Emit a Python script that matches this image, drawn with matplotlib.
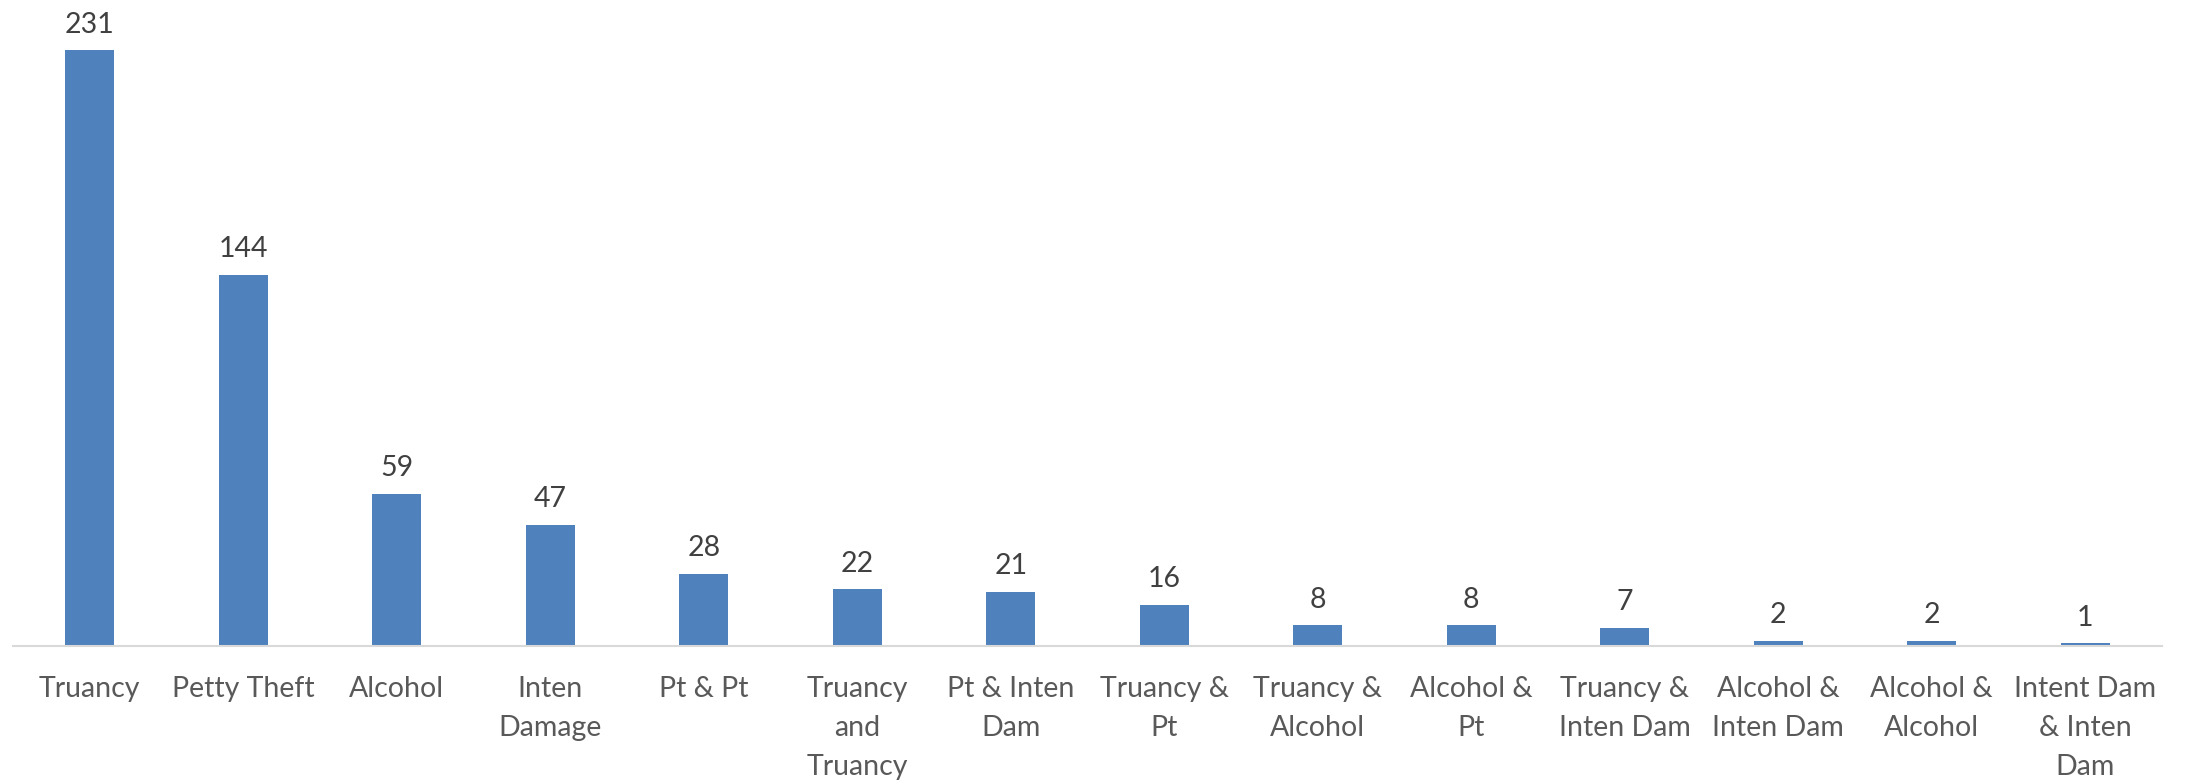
import matplotlib
matplotlib.use("Agg")
import numpy as np
from matplotlib import pyplot as plt

# categories as shown on the x axis (wrapped like the original)
categories = ["Truancy", "Petty Theft", "Alcohol", "Inten\nDamage", "Pt & Pt",
              "Truancy\nand\nTruancy", "Pt & Inten\nDam", "Truancy &\nPt",
              "Truancy &\nAlcohol", "Alcohol &\nPt", "Truancy &\nInten Dam",
              "Alcohol &\nInten Dam", "Alcohol &\nAlcohol", "Intent Dam\n& Inten\nDam"]
counts = [231, 144, 59, 47, 28, 22, 21, 16, 8, 8, 7, 2, 2, 1]

plt.rcParams['font.family'] = ['Lato', 'DejaVu Sans']

fig = plt.figure(figsize=(21.88, 7.81), dpi=100)
ax = fig.add_axes([13 / 2188, 135 / 781, 2149 / 2188, 646 / 781])

x = np.arange(len(categories))
bars = ax.bar(x, counts, width=0.32, color='#4F81BD', zorder=2)

# data labels above the bars
for b, v in zip(bars, counts):
    ax.annotate(str(v), (b.get_x() + b.get_width() / 2, b.get_height()),
                xytext=(0, 9), textcoords='offset points',
                ha='center', va='bottom', fontsize=20.5, color='#404040')

ax.set_xlim(-0.5, len(categories) - 0.5)
ax.set_ylim(0, 250.5)
ax.set_xticks(x)
ax.set_xticklabels(categories, fontsize=20.5, color='#595959', linespacing=1.62)
ax.tick_params(axis='x', length=0, pad=21.5)
ax.set_yticks([])

for s in ['top', 'right', 'left']:
    ax.spines[s].set_visible(False)
ax.spines['bottom'].set_color('#D9D9D9')
ax.spines['bottom'].set_linewidth(1.5)

fig.savefig("out.png", dpi=100)
